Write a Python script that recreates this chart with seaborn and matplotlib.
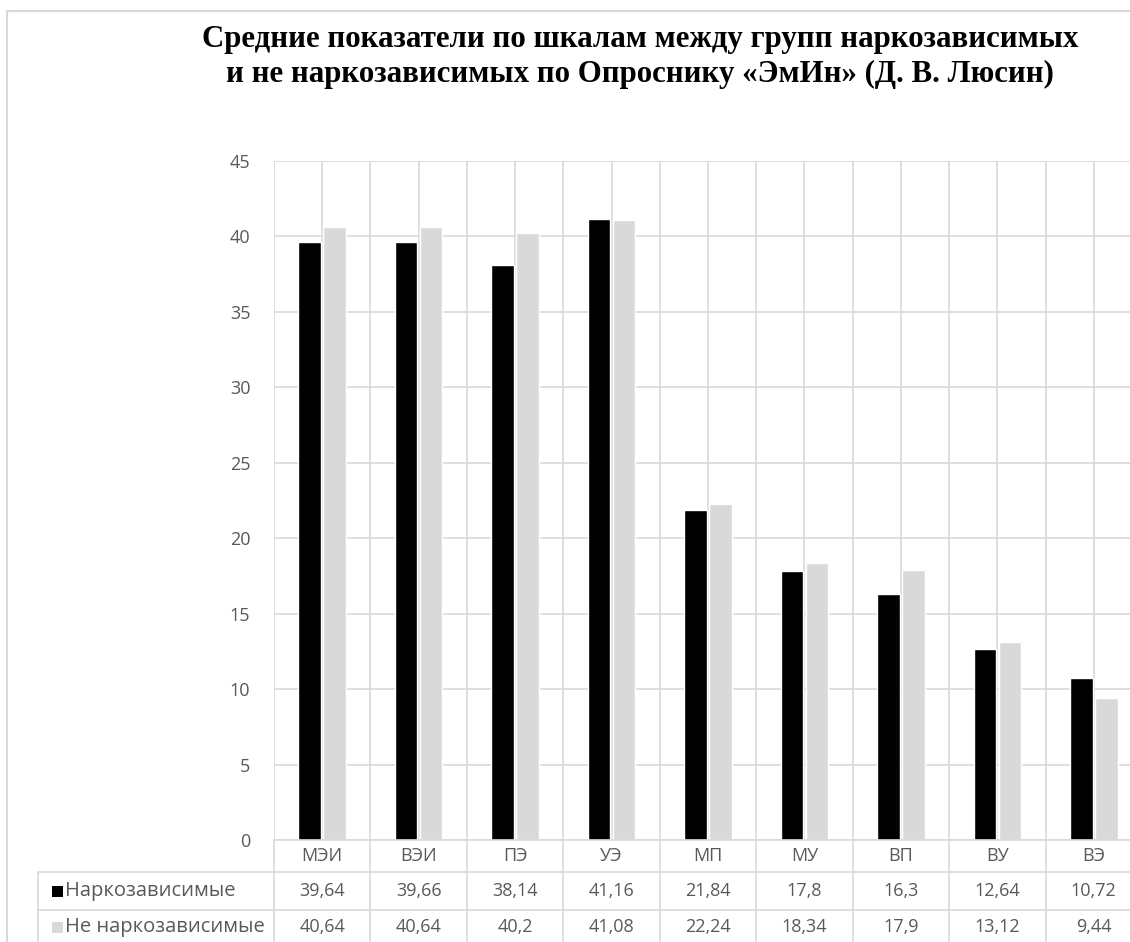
import seaborn as sns
import matplotlib.pyplot as plt
import matplotlib.transforms as mtransforms
from matplotlib.patches import Rectangle
from matplotlib.lines import Line2D
import pandas as pd
import numpy as np

# data
categories = ["МЭИ", "ВЭИ", "ПЭ", "УЭ", "МП", "МУ", "ВП", "ВУ", "ВЭ"]
groups = ["Наркозависимые", "Не наркозависимые"]
addicted = [39.64, 39.66, 38.14, 41.16, 21.84, 17.8, 16.3, 12.64, 10.72]
non_addicted = [40.64, 40.64, 40.2, 41.08, 22.24, 18.34, 17.9, 13.12, 9.44]
y_ticks = [0, 5, 10, 15, 20, 25, 30, 35, 40, 45]

title = ("Средние показатели по шкалам между групп наркозависимых\n"
         "и не наркозависимых по Опроснику «ЭмИн» (Д. В. Люсин)")

df = pd.DataFrame({
    "scale": categories * 2,
    "group": [groups[0]] * len(categories) + [groups[1]] * len(categories),
    "value": addicted + non_addicted,
})

W, H = 1130, 942
colors = ["#000000", "#D9D9D9"]
grid_c = "#D9D9D9"
text_c = "#595959"

sns.set_theme(style="white")
plt.rcParams["font.family"] = ["Open Sans", "DejaVu Sans"]


def fx(px):
    return px / W


def fy(py):
    return 1 - py / H


fig = plt.figure(figsize=(W / 100, H / 100), dpi=100)
ax = fig.add_axes([fx(274), fy(840), fx(1142) - fx(274), fy(161) - fy(840)])

sns.barplot(data=df, x="scale", y="value", hue="group", palette=colors,
            width=0.52, gap=0.1, saturation=1, legend=False, ax=ax,
            errorbar=None, zorder=3)

ax.set_ylim(0, 45)
ax.set_xlim(-0.5, len(categories) - 0.5)
ax.set_yticks(y_ticks)
ax.set_xticks(np.arange(-0.5, len(categories), 0.5))
ax.set_xticklabels([])
ax.tick_params(axis="both", length=0)
ax.tick_params(axis="y", labelsize=13, labelcolor=text_c, pad=17)
ax.grid(True, color=grid_c, linewidth=1.2, zorder=0)
ax.set_axisbelow(True)
ax.set_xlabel("")
ax.set_ylabel("")
for s in ax.spines.values():
    s.set_visible(False)

# data table below the plot
trans = mtransforms.blended_transform_factory(ax.transData, fig.transFigure)
line_kw = dict(color=grid_c, linewidth=1.2)
rows_y = [fy(872), fy(910)]
fig.add_artist(Line2D([fx(274), 1.05], [fy(840)] * 2, **line_kw))
for ry in rows_y:
    fig.add_artist(Line2D([fx(38), 1.05], [ry] * 2, **line_kw))
fig.add_artist(Line2D([fx(38)] * 2, [fy(872), 0], **line_kw))
for b in np.arange(-0.5, len(categories), 1.0):
    fig.add_artist(Line2D([b, b], [fy(840), 0], transform=trans, **line_kw))

for i, cat in enumerate(categories):
    fig.text(i, fy(856), cat, transform=trans, ha="center", va="center",
             fontsize=13, color=text_c)
    fig.text(i, fy(891), f"{addicted[i]:g}".replace(".", ","), transform=trans,
             ha="center", va="center", fontsize=13, color=text_c)
    fig.text(i, fy(927), f"{non_addicted[i]:g}".replace(".", ","), transform=trans,
             ha="center", va="center", fontsize=13, color=text_c)

# legend keys in the table
for ry, name, c in zip([891, 927], groups, colors):
    fig.add_artist(Rectangle((fx(52), fy(ry + 5.5)), fx(11), 11 / H,
                             facecolor=c, edgecolor="none"))
    fig.text(fx(65), fy(ry), name, ha="left", va="center",
             fontsize=14.5, color=text_c)

# chart frame
fig.add_artist(Rectangle((fx(7), -0.1), 1.2, fy(11) + 0.1, fill=False,
                         edgecolor=grid_c, linewidth=1.5))

fig.text(fx(640), fy(57), title, ha="center", va="center", fontsize=22.2,
         fontweight="bold", family=["Liberation Serif", "DejaVu Serif"],
         linespacing=1.25, color="black")

fig.savefig("out.png", dpi=100)
plt.close(fig)
